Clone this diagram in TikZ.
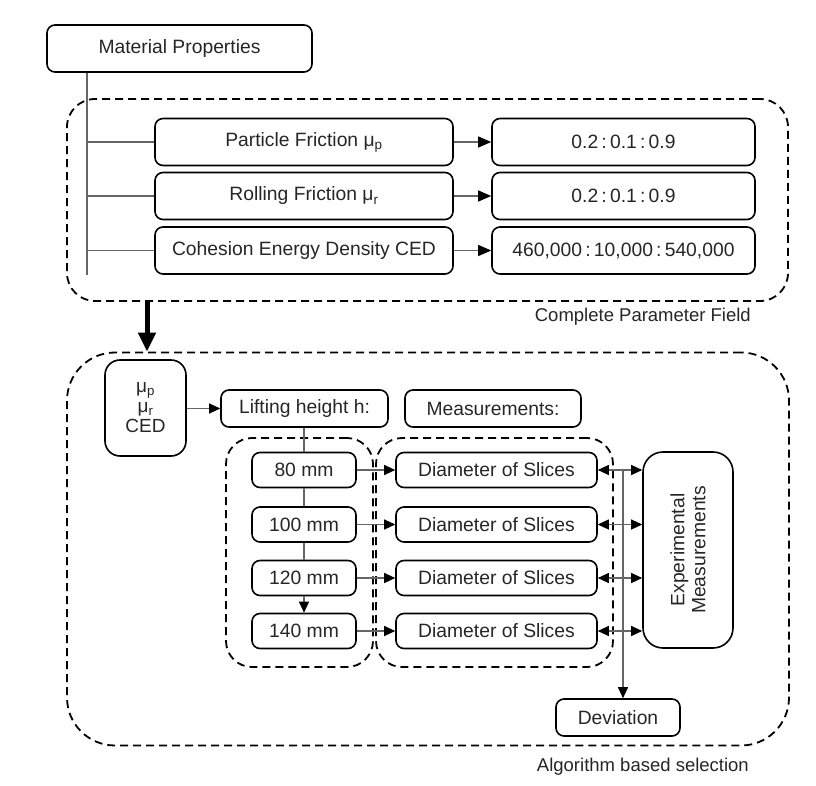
\documentclass[tikz,border=0pt]{standalone}
\usepackage{fontspec}
\setmainfont{Liberation Sans}
\usetikzlibrary{arrows.meta}
\begin{document}
\begin{tikzpicture}[x=1pt,y=-1pt,
  box/.style={draw, line width=1.6pt, rounded corners=8pt, inner sep=0pt, font=\fontsize{19.3}{22}\selectfont, text=black!85},
  grp/.style={draw, line width=1.8pt, dash pattern=on 8pt off 5pt, inner sep=0pt},
  conn/.style={draw=black!60, line width=1.1pt},
  arr/.style={conn, -{Triangle[length=11pt,width=10pt,color=black]}},
  darr/.style={conn, {Triangle[length=11pt,width=10pt,color=black]}-{Triangle[length=11pt,width=10pt,color=black]}},
  bigarr/.style={conn, -{Triangle[length=13pt,width=11pt,color=black]}},
  lbl/.style={font=\fontsize{18.5}{22}\selectfont, anchor=east, inner sep=0pt, text=black!85},
]
\useasboundingbox (0,0) rectangle (816,786);

% top group
\node[grp, rounded corners=28pt, minimum width=721pt, minimum height=202pt] (field) at (427.5,200) {};
\node[lbl] (cpf) at (751,317) {Complete Parameter Field};

\node[box, minimum width=265pt, minimum height=47pt] (mat) at (179.5,48.5) {Material Properties};

\node[box, minimum width=298pt, minimum height=47pt] (pf) at (304,142) {Particle Friction μ\textsubscript{p}};
\node[box, minimum width=298pt, minimum height=47pt] (rf) at (304,196) {Rolling Friction μ\textsubscript{r}};
\node[box, minimum width=298pt, minimum height=47pt] (ced) at (304,250.5) {Cohesion Energy Density CED};

\node[box, minimum width=263pt, minimum height=47pt] (pfv) at (623.5,142) {0.2\,:\,0.1\,:\,0.9};
\node[box, minimum width=263pt, minimum height=47pt] (rfv) at (623.5,196) {0.2\,:\,0.1\,:\,0.9};
\node[box, minimum width=263pt, minimum height=47pt] (cedv) at (623.5,250.5) {460,000\,:\,10,000\,:\,540,000};

\coordinate (trunkend) at (87,275);
\draw[conn] (mat.south -| trunkend) -- (trunkend);
\draw[conn] (pf.west -| trunkend) -- (pf.west);
\draw[conn] (rf.west -| trunkend) -- (rf.west);
\draw[conn] (ced.west -| trunkend) -- (ced.west);

\draw[bigarr] (pf) -- (pfv);
\draw[bigarr] (rf) -- (rfv);
\draw[bigarr] (ced) -- (cedv);

% bottom group
\node[grp, rounded corners=48pt, minimum width=722pt, minimum height=393pt] (sel) at (428,549) {};
\node[lbl] (abs) at (749,767) {Algorithm based selection};

\coordinate (thick) at (147,0);
\draw[line width=5pt, -{Triangle[length=19pt,width=17pt]}] (field.south -| thick) -- (sel.north -| thick);

\node[grp, rounded corners=26pt, minimum width=147pt, minimum height=229pt] (hgrp) at (299.5,552.5) {};
\node[grp, rounded corners=26pt, minimum width=237pt, minimum height=229pt] (mgrp) at (494.5,552.5) {};

\node[box, rounded corners=15pt, minimum width=81pt, minimum height=96pt, align=center, font=\fontsize{19}{20}\selectfont] (mu) at (145.5,408) {μ\textsubscript{p}\\μ\textsubscript{r}\\CED};
\node[box, minimum width=167pt, minimum height=37pt] (lift) at (304.5,408.5) {Lifting height h:};
\node[box, minimum width=176pt, minimum height=37pt] (meas) at (493,408.5) {Measurements:};
\draw[arr] (mu.east |- lift) -- (lift.west);

\node[box, minimum width=104pt, minimum height=35pt] (h80) at (304,470) {80 mm};
\node[box, minimum width=104pt, minimum height=35pt] (h100) at (304,524.5) {100 mm};
\node[box, minimum width=104pt, minimum height=35pt] (h120) at (304,578) {120 mm};
\node[box, minimum width=104pt, minimum height=35pt] (h140) at (304,631) {140 mm};

\draw[conn] (lift.south -| h80) -- (h80.north);
\draw[conn] (h80) -- (h100);
\draw[conn] (h100) -- (h120);
\draw[arr] (h120) -- (h140);

\node[box, minimum width=201pt, minimum height=35pt] (d1) at (496.5,470) {Diameter of Slices};
\node[box, minimum width=201pt, minimum height=35pt] (d2) at (496.5,524.5) {Diameter of Slices};
\node[box, minimum width=201pt, minimum height=35pt] (d3) at (496.5,578) {Diameter of Slices};
\node[box, minimum width=201pt, minimum height=35pt] (d4) at (496.5,631) {Diameter of Slices};

\draw[arr] (h80) -- (d1);
\draw[arr] (h100) -- (d2);
\draw[arr] (h120) -- (d3);
\draw[arr] (h140) -- (d4);

\node[box, rotate=90, rounded corners=20pt, minimum width=196pt, minimum height=90pt, align=center, font=\fontsize{19.3}{21}\selectfont] (exp) at (688,550) {Experimental\\Measurements};

\draw[darr] (d1.east) -- (d1.east -| exp.north);
\draw[darr] (d2.east) -- (d2.east -| exp.north);
\draw[darr] (d3.east) -- (d3.east -| exp.north);
\draw[darr] (d4.east) -- (d4.east -| exp.north);

\node[box, minimum width=124pt, minimum height=37pt] (dev) at (618,717.5) {Deviation};
\coordinate (vtop) at (623,470);
\draw[arr] (vtop) -- (vtop |- dev.north);
\end{tikzpicture}
\end{document}
